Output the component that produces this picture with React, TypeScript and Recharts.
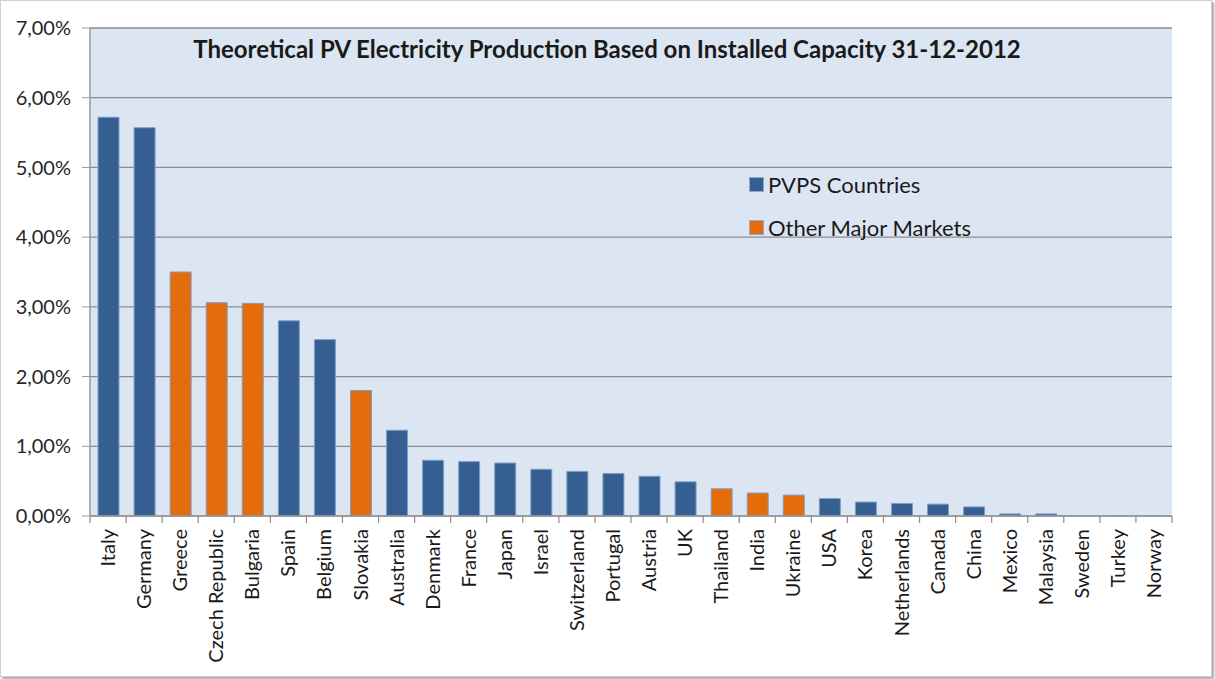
import { Bar, BarChart, CartesianGrid, Legend, XAxis, YAxis } from "recharts";

const countries = [
  "Italy", "Germany", "Greece", "Czech Republic", "Bulgaria", "Spain", "Belgium", "Slovakia",
  "Australia", "Denmark", "France", "Japan", "Israel", "Switzerland", "Portugal", "Austria",
  "UK", "Thailand", "India", "Ukraine", "USA", "Korea", "Netherlands", "Canada", "China",
  "Mexico", "Malaysia", "Sweden", "Turkey", "Norway",
];

// share of electricity demand, in percent
const shares = [
  5.72, 5.57, 3.5, 3.06, 3.05, 2.8, 2.53, 1.8, 1.23, 0.8, 0.78, 0.76, 0.67, 0.64, 0.61, 0.57,
  0.49, 0.39, 0.33, 0.3, 0.25, 0.2, 0.18, 0.17, 0.13, 0.03, 0.03, 0.005, 0.003, 0.002,
];

const otherMarkets = ["Greece", "Czech Republic", "Bulgaria", "Slovakia", "Thailand", "India", "Ukraine"];

const yTicks = [0, 1, 2, 3, 4, 5, 6, 7];

const seriesNames = { pvps: "PVPS Countries", other: "Other Major Markets" };

const BLUE = "#365F91";
const ORANGE = "#E46C0A";
const FONT = "Lato, 'Open Sans', sans-serif";

const W = 1210;
const H = 675;
const MARGIN = { top: 27, right: 39, left: 0, bottom: 0 };
const Y_AXIS_W = 89;
const BAND = (W - MARGIN.left - MARGIN.right - Y_AXIS_W) / countries.length;

const data = countries.map((country, i) => {
  const isOther = otherMarkets.includes(country);
  return { country, pvps: isOther ? 0 : shares[i], other: isOther ? shares[i] : 0 };
});

const fmtPct = (v: number) => `${v.toFixed(2).replace(".", ",")}%`;

function CountryTick(props: any) {
  const { x, y, payload, index } = props;
  const axisY = y - 8;
  const ty = y + 5;
  const left = x - BAND / 2;
  const right = x + BAND / 2;
  return (
    <g>
      <line x1={left} x2={left} y1={axisY} y2={axisY + 7} stroke="#8C8C8C" strokeWidth={1.2} />
      {index === countries.length - 1 && (
        <line x1={right} x2={right} y1={axisY} y2={axisY + 7} stroke="#8C8C8C" strokeWidth={1.2} />
      )}
      <text
        x={x}
        y={ty}
        dy="0.35em"
        transform={`rotate(-90 ${x} ${ty})`}
        textAnchor="end"
        fontSize={20}
        fill="#1a1a1a"
        fontFamily={FONT}
      >
        {payload.value}
      </text>
    </g>
  );
}

function LegendBox() {
  const rows = [
    { label: seriesNames.pvps, color: BLUE },
    { label: seriesNames.other, color: ORANGE },
  ];
  return (
    <div style={{ fontFamily: FONT, fontSize: 22, color: "#1a1a1a" }}>
      {rows.map((r) => (
        <div key={r.label} style={{ display: "flex", alignItems: "center", height: 43 }}>
          <span
            style={{
              display: "inline-block",
              width: 13,
              height: 13,
              background: r.color,
              border: "1px solid #8FA9D0",
              marginRight: 4,
            }}
          />
          {r.label}
        </div>
      ))}
    </div>
  );
}

export default function App() {
  return (
    <div
      style={{
        position: "absolute",
        left: 0,
        top: 0,
        width: W,
        height: H,
        background: "#fff",
        border: "1px solid #d0d0d0",
        boxShadow: "2px 2px 2px rgba(0,0,0,0.35)",
      }}
    >
      <div
        style={{
          position: "absolute",
          left: 0,
          top: 33,
          width: 1212,
          textAlign: "center",
          fontFamily: FONT,
          fontWeight: 700,
          fontSize: 24,
          color: "#1a1a1a",
          zIndex: 2,
        }}
      >
        Theoretical PV Electricity Production Based on Installed Capacity 31-12-2012
      </div>
      <BarChart width={W} height={H} data={data} margin={MARGIN} barSize={21}>
        <CartesianGrid vertical={false} fill="#DCE6F2" stroke="#8C8C8C" strokeWidth={1.3} />
        <XAxis
          dataKey="country"
          interval={0}
          height={160}
          tickLine={false}
          tickSize={6}
          tickMargin={2}
          axisLine={{ stroke: "#9A9A9A", strokeWidth: 1.5 }}
          tick={<CountryTick />}
        />
        <YAxis
          width={Y_AXIS_W}
          domain={[0, 7]}
          ticks={yTicks}
          tickFormatter={fmtPct}
          tickSize={8}
          tickMargin={11}
          axisLine={{ stroke: "#9A9A9A", strokeWidth: 1.5 }}
          tickLine={{ stroke: "#9A9A9A" }}
          tick={{ fontSize: 20, fill: "#262626", fontFamily: FONT }}
        />
        <Legend
          layout="horizontal"
          verticalAlign="middle"
          align="center"
          wrapperStyle={{ top: 162, left: 748, width: 300 }}
          content={() => <LegendBox />}
        />
        <Bar
          dataKey="pvps"
          name={seriesNames.pvps}
          stackId="s"
          fill={BLUE}
          stroke="#7E9DC9"
          strokeWidth={1}
          isAnimationActive={false}
        />
        <Bar
          dataKey="other"
          name={seriesNames.other}
          stackId="s"
          fill={ORANGE}
          stroke="#7E9DC9"
          strokeWidth={1}
          isAnimationActive={false}
        />
      </BarChart>
    </div>
  );
}
